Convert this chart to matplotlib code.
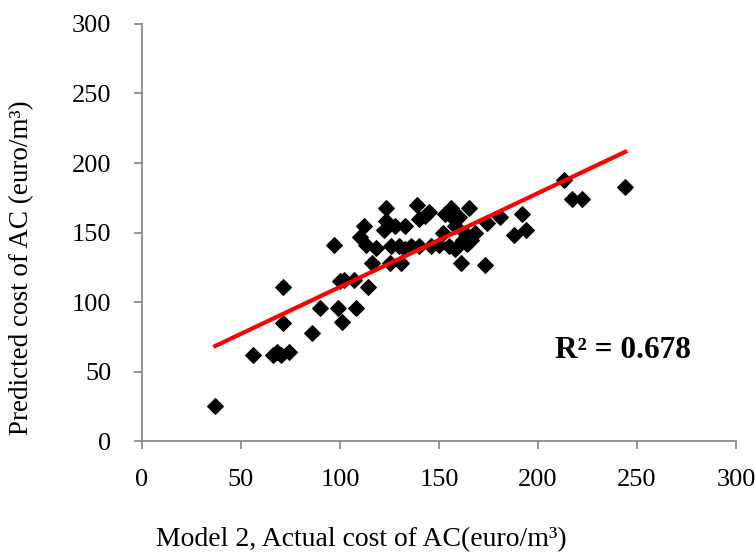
import numpy as np
import matplotlib.pyplot as plt

plt.rcParams['font.family'] = ['Liberation Serif', 'DejaVu Serif']

# actual cost (x) and predicted cost (y)
actual = [37, 56, 66, 68, 70, 74, 71, 71, 86, 90, 97, 99, 100, 102, 101, 107, 108,
          110, 112, 113, 114, 116, 118, 123, 123, 122, 125, 126, 128, 130, 131, 133,
          133, 136, 139, 140, 140, 143, 145, 146, 150, 152, 153, 155, 156, 156, 158,
          158, 160, 161, 162, 163, 164, 165, 166, 168, 173, 174, 181, 188, 192, 194,
          213, 217, 222, 244]
predicted = [25, 62, 62, 64, 62, 64, 111, 85, 78, 96, 141, 96, 115, 116, 86, 116, 96,
             147, 155, 141, 111, 128, 139, 168, 158, 152, 128, 140, 155, 140, 128, 155,
             138, 140, 170, 140, 160, 162, 165, 140, 141, 150, 163, 140, 168, 162, 138,
             155, 161, 128, 145, 150, 142, 168, 145, 150, 127, 157, 161, 148, 163, 152,
             188, 174, 174, 183]

r2_text = 'R² = 0.678'

fig = plt.figure(figsize=(7.55, 5.57), dpi=100)
ax = fig.add_axes([0.188, 0.208, 0.787, 0.749])

x = np.array(actual)
y = np.array(predicted)
ax.scatter(x, y, marker='D', s=62, color='black', zorder=3)

# linear trendline
k, b = np.polyfit(x, y, 1)
xs = np.array([x.min(), x.max()])
ax.plot(xs, k * xs + b, color='#ff0000', lw=3, zorder=4)

ax.text(0.695, 0.2, r2_text, transform=ax.transAxes, fontsize=22.5, fontweight='bold')

ax.set_xlim(0, 300)
ax.set_ylim(0, 300)
ax.set_xticks(range(0, 301, 50))
ax.set_yticks(range(0, 301, 50))
for s in ['top', 'right']:
    ax.spines[s].set_visible(False)
for s in ['left', 'bottom']:
    ax.spines[s].set_color('#8c8c8c')
    ax.spines[s].set_linewidth(1.3)
ax.tick_params(colors='#8c8c8c', labelcolor='black', labelsize=19, length=6, width=1.3)
ax.tick_params(axis='x', pad=14)
ax.tick_params(axis='y', pad=16)

ax.set_xlabel('Model 2, Actual cost of AC(euro/m³)', fontsize=20)
ax.set_ylabel('Predicted cost of AC (euro/m³)', fontsize=19.5)
ax.xaxis.set_label_coords(0.369, -0.205)
ax.yaxis.set_label_coords(-0.182, 0.415)

fig.savefig('out.png', dpi=100)
